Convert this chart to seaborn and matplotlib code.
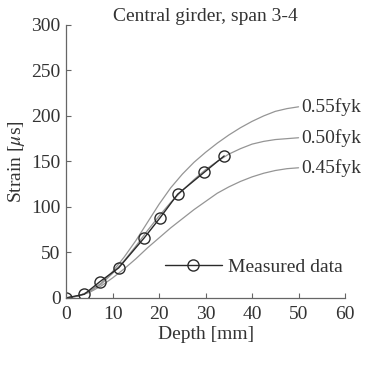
import numpy as np
import pandas as pd
import matplotlib
matplotlib.use("Agg")
import matplotlib.pyplot as plt
import seaborn as sns

# Measured data
depth_meas = [0, 3.9, 7.3, 11.3, 16.8, 20.2, 24.0, 29.7, 34.0]
strain_meas = [0, 4, 18, 33, 66, 88, 114, 138, 156]

# Model curves (depth in mm, strain in microstrain)
depth_curve = [0, 2.5, 5, 7.5, 10, 12.5, 15, 17.5, 20, 22.5, 25, 27.5, 30, 32.5, 35, 37.5, 40, 42.5, 45, 47.5, 50]
strain_055 = [0, 2, 7, 16, 29, 45, 63, 83, 103, 121, 136, 149, 160, 170, 179, 187, 194, 200, 205, 208, 210]
strain_050 = [0, 2, 7, 15, 27, 41, 57, 74, 90, 105, 118, 130, 141, 150, 158, 164, 169, 172, 174, 175, 176]
strain_045 = [0, 2, 6, 13, 22, 32, 43, 55, 66, 77, 87, 97, 106, 115, 122, 128, 133, 137, 140, 142, 143]
curve_labels = ["0.55fyk", "0.50fyk", "0.45fyk"]

sns.set_style("ticks")
plt.rcParams["font.family"] = ["Liberation Serif", "DejaVu Serif"]
plt.rcParams["mathtext.fontset"] = "stix"

FS = 14
TXT = "#333333"

fig = plt.figure(figsize=(3.89, 3.66), dpi=100)
ax = fig.add_axes([0.170, 0.186, 0.717, 0.746])

curve_color = "#959595"
for vals, lab in zip([strain_055, strain_050, strain_045], curve_labels):
    df = pd.DataFrame({"d": depth_curve, "s": vals})
    sns.lineplot(data=df, x="d", y="s", ax=ax, color=curve_color, lw=0.9, legend=False)
    ax.text(depth_curve[-1] + 0.6, vals[-1], lab, fontsize=FS, va="center", ha="left", color=TXT)

dfm = pd.DataFrame({"d": depth_meas, "s": strain_meas})
sns.lineplot(data=dfm, x="d", y="s", ax=ax, color="#2a2a2a", lw=1.0, marker="o",
             markersize=8, markerfacecolor="none", markeredgecolor="#2a2a2a",
             markeredgewidth=1.0, label="Measured data")

ax.set_xlim(0, 60)
ax.set_ylim(0, 300)
ax.set_xticks(np.arange(0, 61, 10))
ax.set_yticks(np.arange(0, 301, 50))
ax.set_xlabel("Depth [mm]", fontsize=FS, color=TXT, labelpad=2)
ax.set_ylabel("Strain [$\\mu$s]", fontsize=FS, color=TXT, labelpad=3)
ax.set_title("Central girder, span 3-4", fontsize=FS, color=TXT, pad=3)
ax.tick_params(direction="in", length=3.5, width=0.8, color="#666666", labelsize=FS,
               labelcolor=TXT)
ax.tick_params(axis="x", pad=6)
ax.tick_params(axis="y", pad=4)
for sp in ["left", "bottom"]:
    ax.spines[sp].set_color("#666666")
    ax.spines[sp].set_linewidth(0.9)
sns.despine(ax=ax)

leg = ax.legend(loc="center left", bbox_to_anchor=(0.355, 0.114), frameon=False,
                fontsize=FS, handlelength=2.9, handletextpad=0.35, borderaxespad=0,
                borderpad=0)
for t in leg.get_texts():
    t.set_color(TXT)

fig.savefig("out.png", dpi=100)
